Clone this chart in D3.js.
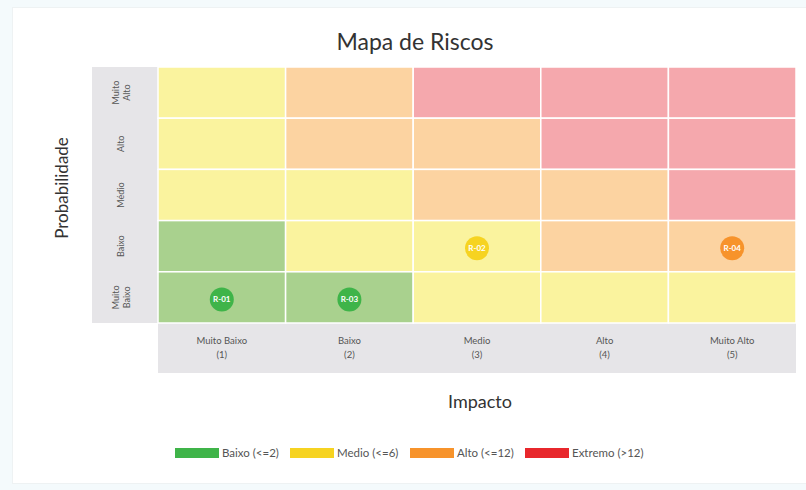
<!DOCTYPE html>
<html><head><meta charset="utf-8">
<script src="https://cdn.jsdelivr.net/npm/d3@7/dist/d3.min.js"></script>
<style>
html,body{margin:0;padding:0;background:#f4fafc;}
svg{display:block;}
</style></head>
<body><svg id="chart" width="806" height="490"></svg>
<script>
const impactLabels = ["Muito Baixo", "Baixo", "Medio", "Alto", "Muito Alto"];
const impactCodes = ["(1)", "(2)", "(3)", "(4)", "(5)"];
const probLabels = [["Muito", "Alto"], ["Alto"], ["Médio"], ["Baixo"], ["Muito", "Baixo"]]; // top to bottom
const probValues = [5, 4, 3, 2, 1];
const impactValues = [1, 2, 3, 4, 5];
const levelNames = ["Baixo (<=2)", "Medio (<=6)", "Alto (<=12)", "Extremo (>12)"];
const levelMax = [2, 6, 12, 25];
const cellColors = ["#a9d18e", "#faf39e", "#fcd3a1", "#f5a8ad"];
const levelColors = ["#3fb449", "#f6d321", "#f7932b", "#e8272c"];
const riskIds = ["R-01", "R-03", "R-02", "R-04"];
const riskImpact = [1, 2, 3, 5];
const riskProb = [1, 1, 2, 2];

const svg = d3.select("#chart");
const font = "Lato, 'Open Sans', sans-serif";

// card
svg.append("rect").attr("x", 12.5).attr("y", 7.5).attr("width", 800).attr("height", 476)
  .attr("fill", "#fff").attr("stroke", "#eef2f3");

const gx0 = 158, gx1 = 796, gy0 = 67, gy1 = 323;
const x = d3.scaleBand().domain(impactValues).range([gx0, gx1]);
const y = d3.scaleBand().domain(probValues).range([gy0, gy1]);

function level(v) { return levelMax.findIndex(m => v <= m); }

// title
svg.append("text").attr("x", 415).attr("y", 50).attr("text-anchor", "middle")
  .attr("font-family", font).attr("font-size", 23).attr("fill", "#333").text("Mapa de Riscos");

// gray bands
svg.append("rect").attr("x", 92).attr("y", gy0).attr("width", gx0 - 92).attr("height", gy1 - gy0).attr("fill", "#e6e5e8");
svg.append("rect").attr("x", gx0).attr("y", gy1).attr("width", gx1 - gx0).attr("height", 50).attr("fill", "#e6e5e8");

// cells
const cells = [];
probValues.forEach(p => impactValues.forEach(i => cells.push({p, i, v: p * i})));
svg.append("g").selectAll("rect").data(cells).join("rect")
  .attr("x", d => x(d.i)).attr("y", d => y(d.p))
  .attr("width", x.bandwidth()).attr("height", y.bandwidth())
  .attr("fill", d => cellColors[level(d.v)])
  .attr("stroke", "#fff").attr("stroke-width", 1.5);

// y labels
const yl = svg.append("g");
probValues.forEach((p, k) => {
  const lines = probLabels[k];
  const cy = y(p) + y.bandwidth() / 2;
  const t = yl.append("text").attr("transform", `translate(121,${cy}) rotate(-90)`)
    .attr("text-anchor", "middle").attr("font-family", font).attr("font-size", 9).attr("fill", "#555");
  lines.forEach((ln, j) => {
    t.append("tspan").attr("x", 0).attr("y", (j - (lines.length - 1) / 2) * 11 + 3).text(ln);
  });
});

// x labels
impactValues.forEach((v, k) => {
  const cx = x(v) + x.bandwidth() / 2;
  svg.append("text").attr("x", cx).attr("y", 344).attr("text-anchor", "middle")
    .attr("font-family", font).attr("font-size", 9.5).attr("fill", "#555").text(impactLabels[k]);
  svg.append("text").attr("x", cx).attr("y", 358).attr("text-anchor", "middle")
    .attr("font-family", font).attr("font-size", 9.5).attr("fill", "#555").text(impactCodes[k]);
});

// axis titles
svg.append("text").attr("x", 480).attr("y", 408).attr("text-anchor", "middle")
  .attr("font-family", font).attr("font-size", 18).attr("fill", "#333").text("Impacto");
svg.append("text").attr("transform", "translate(68,188) rotate(-90)").attr("text-anchor", "middle")
  .attr("font-family", font).attr("font-size", 17).attr("fill", "#333").text("Probabilidade");

// risk points
const pts = riskIds.map((id, k) => ({id, i: riskImpact[k], p: riskProb[k]}));
const pg = svg.append("g").selectAll("g").data(pts).join("g")
  .attr("transform", d => `translate(${x(d.i) + x.bandwidth() / 2},${y(d.p) + y.bandwidth() / 2 + 2})`);
pg.append("circle").attr("r", 12).attr("fill", d => levelColors[level(d.i * d.p)]);
pg.append("text").attr("text-anchor", "middle").attr("dy", 3).attr("font-family", font)
  .attr("font-size", 8).attr("font-weight", "bold").attr("fill", "#fff").text(d => d.id);

// legend
const lx = [175, 290, 410, 525];
const lg = svg.append("g");
levelNames.forEach((n, k) => {
  lg.append("rect").attr("x", lx[k]).attr("y", 448).attr("width", 44).attr("height", 10).attr("fill", levelColors[k]);
  lg.append("text").attr("x", lx[k] + 47).attr("y", 457).attr("font-family", font)
    .attr("font-size", 11.5).attr("fill", "#555").text(n);
});
</script></body></html>
